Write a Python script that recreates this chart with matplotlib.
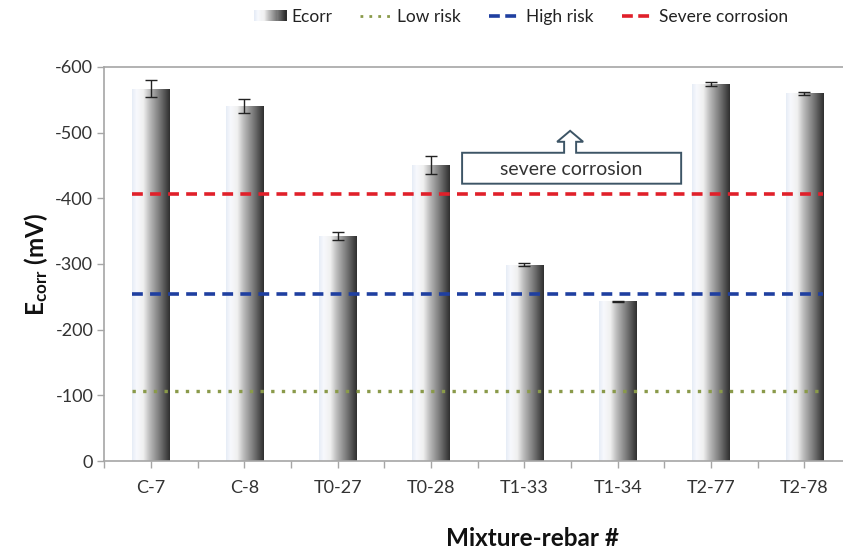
import numpy as np
import matplotlib
matplotlib.use("Agg")
import matplotlib.pyplot as plt
from matplotlib.colors import LinearSegmentedColormap
from matplotlib.patches import Rectangle, Polygon
from matplotlib.lines import Line2D
from matplotlib.legend_handler import HandlerBase
from matplotlib.ticker import FixedLocator

plt.rcParams['font.family'] = ['Lato', 'DejaVu Sans']
plt.rcParams['mathtext.fontset'] = 'custom'
plt.rcParams['mathtext.rm'] = 'Lato'
plt.rcParams['mathtext.bf'] = 'Lato:bold'

# Corrosion potential per mixture/rebar specimen (mV)
specimens = ["C-7", "C-8", "T0-27", "T0-28", "T1-33", "T1-34", "T2-77", "T2-78"]
ecorr = [-567, -541, -343, -451, -299, -243, -574, -560]
ecorr_err = [13, 11, 6, 14, 2, 1, 3, 2]

# Corrosion-risk thresholds (mV)
low_risk = -106
high_risk = -255
severe_corrosion = -406

yticks = [0, -100, -200, -300, -400, -500, -600]

grad_cmap = LinearSegmentedColormap.from_list(
    "bar_grad",
    [(0.0, "#e6ecf6"), (0.12, "#f7f9fd"), (0.30, "#f0f0f0"),
     (0.45, "#c0c0c0"), (0.75, "#737373"), (1.0, "#2e2e2e")])

fig = plt.figure(figsize=(8.43, 5.54), dpi=100)
ax = fig.add_axes([104.4 / 843, 1 - 461 / 554, (851 - 104.4) / 843, (461 - 67) / 554])

x = np.arange(len(specimens))
bar_w = 0.40
bars = ax.bar(x, ecorr, width=bar_w, color="none", edgecolor="none", zorder=2)
gradient = np.linspace(0, 1, 256).reshape(1, -1)
for b in bars:
    x0 = b.get_x()
    w = b.get_width()
    h = b.get_height()
    im = ax.imshow(gradient, cmap=grad_cmap, aspect="auto",
                   extent=[x0, x0 + w, 0, h], zorder=2, interpolation="bilinear")
    im.set_clip_path(b)

ax.errorbar(x, ecorr, yerr=ecorr_err, fmt="none", ecolor="#222222",
            elinewidth=1.0, capsize=4, capthick=1.0, zorder=3)

xs, xe = x[0] - bar_w / 2, x[-1] + bar_w / 2
ax.hlines(low_risk, xs, xe, colors="#8a9a4a", linestyles=(0, (1, 2.2)), linewidth=2.4, zorder=4)
ax.hlines(high_risk, xs, xe, colors="#1f3fa0", linestyles=(0, (3, 2)), linewidth=2.6, zorder=4)
ax.hlines(severe_corrosion, xs, xe, colors="#e0202a", linestyles=(0, (3, 2)), linewidth=2.6, zorder=4)

ax.set_xlim(-0.5, len(specimens) - 0.5)
ax.set_ylim(0, -600)
ax.set_yticks(yticks)
ax.set_yticklabels([str(v) for v in yticks])
ax.set_xticks(x)
ax.set_xticklabels(specimens)
ax.xaxis.set_minor_locator(FixedLocator(np.arange(-0.5, len(specimens), 1.0)))

for side in ["left", "bottom", "top"]:
    ax.spines[side].set_color("#a6a6a6")
    ax.spines[side].set_linewidth(1.2)
ax.spines["right"].set_visible(False)
ax.tick_params(axis="both", which="both", direction="out", color="#a6a6a6",
               length=5, width=1.0, labelcolor="#333333", labelsize=13)
ax.tick_params(axis="x", which="major", pad=9)
ax.tick_params(axis="y", pad=3)

ax.set_ylabel(r"$\mathbf{E_{corr}}$ $\mathbf{(mV)}$", fontsize=17.5, color="#111111", labelpad=4)
fig.text(533 / 843, 1 - 538 / 554, "Mixture-rebar #", fontsize=17.5, fontweight="bold",
         color="#111111", ha="center", va="center")

# Up-arrow callout box
cx = lambda px: (px - 104.4) / 93.3 - 0.5
cy = lambda py: -(461 - py) / 0.6583
callout = [(462, 183), (462, 152), (564, 152), (564, 141), (557, 141), (570, 130),
           (583, 141), (576, 141), (576, 152), (681, 152), (681, 183)]
ax.add_patch(Polygon([(cx(px), cy(py)) for px, py in callout], closed=True,
                     facecolor="white", edgecolor="#3d5566", linewidth=1.4, zorder=5))
ax.text(cx(571), cy(169), "severe corrosion", ha="center", va="center",
        fontsize=14, color="#333333", zorder=6)


class GradientHandler(HandlerBase):
    def create_artists(self, legend, orig_handle, xdescent, ydescent, width, height,
                       fontsize, trans):
        n = 30
        arts = []
        for i in range(n):
            r = Rectangle((-xdescent + width * i / n, -ydescent + height * 0.05),
                          width / n + 0.3, height * 0.9,
                          facecolor=grad_cmap(i / (n - 1)), edgecolor="none",
                          transform=trans)
            arts.append(r)
        return arts


ecorr_handle = Rectangle((0, 0), 1, 1)
handles = [ecorr_handle,
           Line2D([], [], color="#8a9a4a", linestyle=(0, (1, 2.2)), linewidth=2.0),
           Line2D([], [], color="#1f3fa0", linestyle=(0, (3, 1.5)), linewidth=2.6),
           Line2D([], [], color="#e0202a", linestyle=(0, (3, 1.5)), linewidth=2.6)]
labels = ["Ecorr", "Low risk", "High risk", "Severe corrosion"]
fig.legend(handles, labels, handler_map={Rectangle: GradientHandler()},
           loc="center", bbox_to_anchor=(521 / 843, 1 - 17 / 554), ncol=4,
           frameon=False, fontsize=12.5, handlelength=1.85, handletextpad=0.3,
           columnspacing=1.6, labelcolor="#222222")

fig.savefig("out.png", dpi=100)
